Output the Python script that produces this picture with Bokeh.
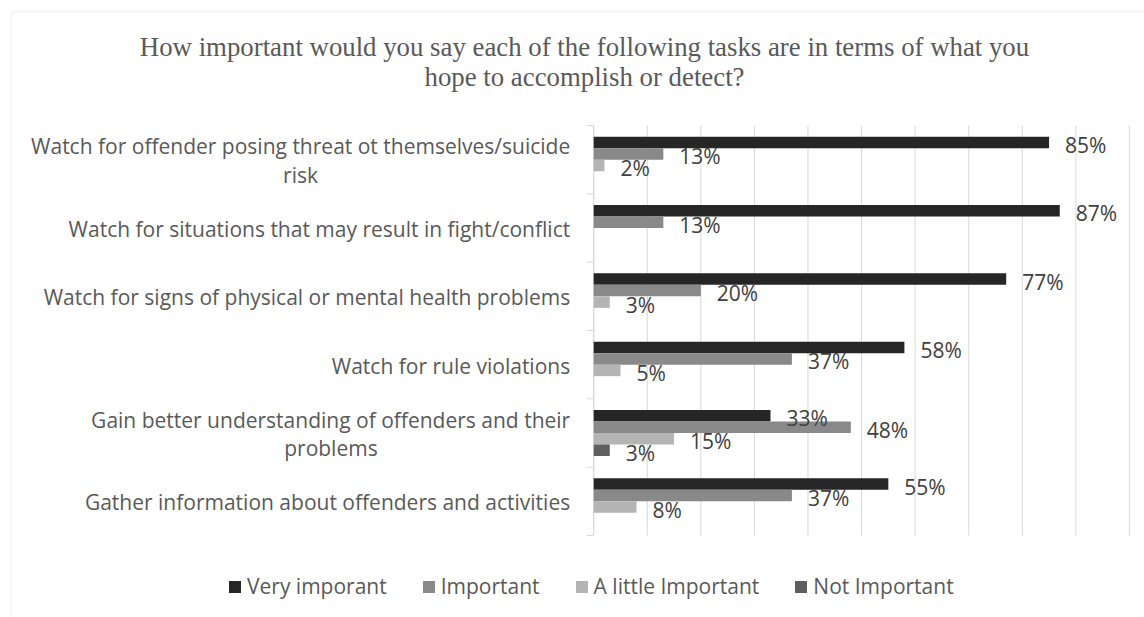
import textwrap
from bokeh.plotting import figure
from bokeh.models import (ColumnDataSource, LabelSet, Label, Legend, LegendItem,
                          Range1d, BoxAnnotation)
from bokeh.core.properties import value
from bokeh.embed import file_html
from bokeh.resources import INLINE

# ---------------- data ----------------
title = ("How important would you say each of the following tasks are in terms "
         "of what you hope to accomplish or detect?")
categories = [
    "Watch for offender posing threat ot themselves/suicide risk",
    "Watch for situations that may result in fight/conflict",
    "Watch for signs of physical or mental health problems",
    "Watch for rule violations",
    "Gain better understanding of offenders and their problems",
    "Gather information about offenders and activities",
]
series = ["Very imporant", "Important", "A little Important", "Not Important"]
very_important = [85, 87, 77, 58, 33, 55]
important = [13, 13, 20, 37, 48, 37]
a_little_important = [2, 0, 3, 5, 15, 8]
not_important = [0, 0, 0, 0, 3, 0]
x_ticks = [0, 10, 20, 30, 40, 50, 60, 70, 80, 90, 100]

values = [very_important, important, a_little_important, not_important]
colors = ["#262626", "#898989", "#b4b4b4", "#5f5f5f"]

# ---------------- layout / styling ----------------
SANS = "Open Sans"
SERIF = "Liberation Serif"
LBL = "21px"
TXT = "#595959"
GRID = "#d9d9d9"

W, H = 1144, 617
PLOT_LEFT = 593.2      # px of 0 %
PX_PER_PCT = 5.357     # px per 1 %
PLOT_TOP, PLOT_BOTTOM = 125.0, 535.0
n = len(categories)
PX_PER_CAT = (PLOT_BOTTOM - PLOT_TOP) / n

x_range = Range1d(-PLOT_LEFT / PX_PER_PCT, (W - PLOT_LEFT) / PX_PER_PCT)
y_range = Range1d(-(H - PLOT_BOTTOM) / PX_PER_CAT, n + PLOT_TOP / PX_PER_CAT)

p = figure(width=W, height=H, x_range=x_range, y_range=y_range,
           output_backend="svg", toolbar_location=None,
           x_axis_location=None, y_axis_location=None,
           min_border=0, min_border_left=0, min_border_right=0,
           min_border_top=0, min_border_bottom=0)
p.outline_line_color = None
p.background_fill_color = "white"
p.border_fill_color = "white"
p.xgrid.visible = False
p.ygrid.visible = False

# chart-area border (runs past the window on the right and bottom)
p.add_layout(BoxAnnotation(left=11, right=W + 50, top=H - 11, bottom=-50,
                           left_units="screen", right_units="screen",
                           top_units="screen", bottom_units="screen",
                           fill_alpha=0, line_color=GRID, line_width=1.5, level="underlay"))

# vertical gridlines
p.segment(x0=x_ticks, y0=[0] * len(x_ticks), x1=x_ticks, y1=[n] * len(x_ticks),
          line_color=GRID, line_width=1)
# category axis line and outward ticks at category boundaries
bounds = list(range(n + 1))
p.segment(x0=[0], y0=[0], x1=[0], y1=[n], line_color=GRID, line_width=1)
p.segment(x0=[0] * len(bounds), y0=bounds, x1=[-7 / PX_PER_PCT] * len(bounds), y1=bounds,
          line_color=GRID, line_width=1)

# ---------------- bars ----------------
centers = [n - i - 0.5 for i in range(n)]
bar_h = 11.5 / PX_PER_CAT
renderers = []
lab_x, lab_y, lab_t = [], [], []
for k, (name, vals, col) in enumerate(zip(series, values, colors)):
    off = (1.5 - k) * bar_h
    ys = [c + off for c in centers]
    src = ColumnDataSource(dict(y=ys, right=vals))
    r = p.hbar(y="y", left=0, right="right", height=bar_h, source=src,
               fill_color=col, line_color=None)
    renderers.append(r)
    for v, yy in zip(vals, ys):
        if v > 0:
            lab_x.append(v)
            lab_y.append(yy)
            lab_t.append(f"{v}%")

p.add_layout(LabelSet(x="x", y="y", text="t",
                      source=ColumnDataSource(dict(x=lab_x, y=lab_y, t=lab_t)),
                      x_offset=16, y_offset=-2.5, text_align="left", text_baseline="middle",
                      text_font=value(SANS), text_font_size=LBL, text_color="#404040"))

# ---------------- category labels ----------------
EMW = {'a': .556, 'b': .613, 'c': .476, 'd': .613, 'e': .561, 'f': .336, 'g': .549, 'h': .614,
       'i': .253, 'j': .253, 'k': .529, 'l': .253, 'm': .930, 'n': .614, 'o': .604, 'p': .613,
       'q': .613, 'r': .408, 's': .477, 't': .353, 'u': .614, 'v': .500, 'w': .770, 'x': .514,
       'y': .504, 'z': .461, ' ': .260, '/': .371, 'W': .925, 'G': .694}


def est_width(s, px=21.0):
    return sum(EMW.get(ch, .6) for ch in s) * px


STANDOFF = -23.5
LINE_GAP = 14.2
r_x, r_y, r_t, r_off = [], [], [], []
c_x, c_y, c_t, c_xoff, c_off = [], [], [], [], []
for cat, c in zip(categories, centers):
    lines = textwrap.wrap(cat, 55)
    if len(lines) == 1:
        r_x.append(0); r_y.append(c); r_t.append(lines[0]); r_off.append(-1.0)
    else:
        r_x.append(0); r_y.append(c); r_t.append(lines[0]); r_off.append(LINE_GAP - 1.0)
        c_x.append(0); c_y.append(c); c_t.append(lines[1])
        c_xoff.append(STANDOFF - est_width(lines[0]) / 2)
        c_off.append(-LINE_GAP - 1.0)

p.add_layout(LabelSet(x="x", y="y", text="t", y_offset="off",
                      source=ColumnDataSource(dict(x=r_x, y=r_y, t=r_t, off=r_off)),
                      x_offset=STANDOFF, text_align="right", text_baseline="middle",
                      text_font=value(SANS), text_font_size=LBL, text_color=TXT))
p.add_layout(LabelSet(x="x", y="y", text="t", x_offset="xo", y_offset="off",
                      source=ColumnDataSource(dict(x=c_x, y=c_y, t=c_t, xo=c_xoff, off=c_off)),
                      text_align="center", text_baseline="middle",
                      text_font=value(SANS), text_font_size=LBL, text_color=TXT))

# ---------------- title ----------------
p.add_layout(Label(x=584, y=H - 31.5, x_units="screen", y_units="screen",
                   text="\n".join(textwrap.wrap(title, 82)),
                   text_align="center", text_baseline="top", text_line_height=1.0,
                   text_font=SERIF, text_font_size="26.8px", text_color=TXT))

# ---------------- legend ----------------
legend = Legend(items=[LegendItem(label=s, renderers=[r]) for s, r in zip(series, renderers)],
                location=(227, 17), orientation="horizontal",
                glyph_width=15, glyph_height=15, label_standoff=5, spacing=34,
                padding=0, margin=0, border_line_color=None, background_fill_alpha=0,
                label_text_font=SANS, label_text_font_size=LBL, label_text_color=TXT)
p.add_layout(legend)

open("out.html", "w").write(file_html(p, INLINE))
